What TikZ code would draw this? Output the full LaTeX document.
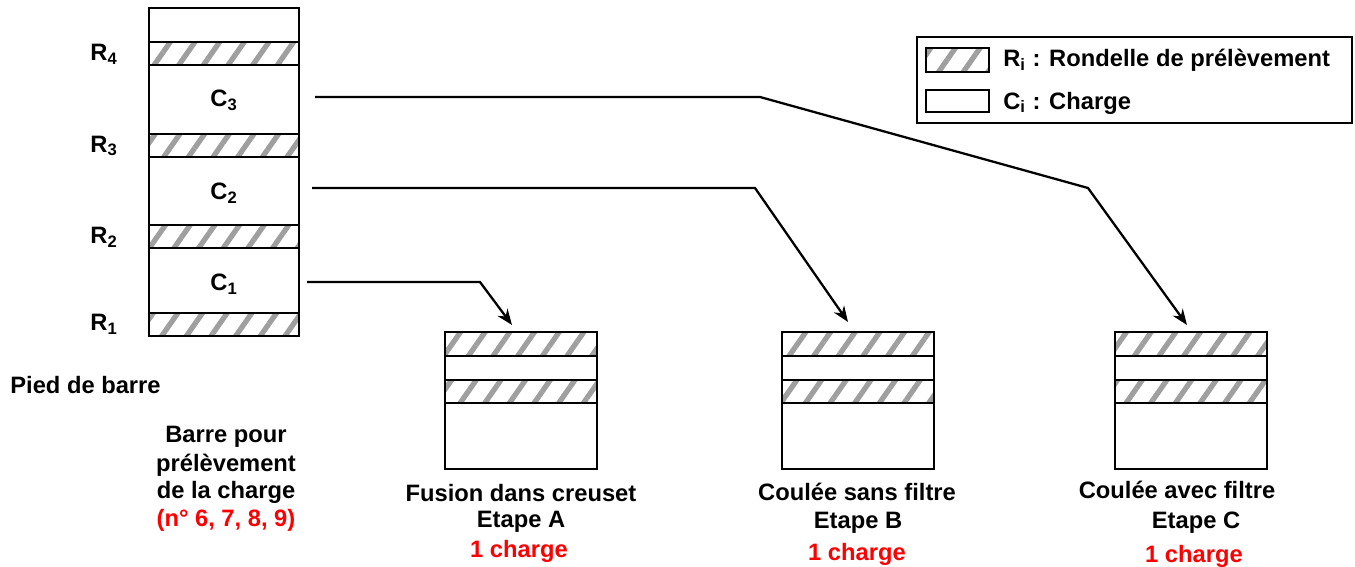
\documentclass[tikz,border=0pt]{standalone}
\usepackage{fontspec}
\setmainfont{Liberation Sans}
\usetikzlibrary{patterns.meta,arrows.meta}
\tikzset{
    ronde/.style={draw,line width=1.2pt,pattern={Lines[angle=55,distance=11.5pt,line width=3pt]},pattern color=gray!75},
    charge/.style={draw,line width=1.2pt},
    lien/.style={line width=1.3pt,-{Stealth[length=9pt,width=7pt]}},
    every node/.style={font=\bfseries\fontsize{13.5}{15.5}\selectfont,inner sep=0pt}
}
\begin{document}
\begin{tikzpicture}[x=0.02cm,y=-0.02cm]
        \useasboundingbox (0,0) rectangle (1355,567);
        % barre
        \draw[charge] (149,8) rectangle (299,336);
        \foreach \y in {42,134,225,313} {
            \draw[ronde] (149,\y) rectangle (299,\y+23);
        }
        \node (r4) at (104,54) {R\textsubscript{4}};
        \node (r3) at (104,146) {R\textsubscript{3}};
        \node (r2) at (104,237) {R\textsubscript{2}};
        \node (r1) at (104,324) {R\textsubscript{1}};
        \node (c3) at (224,100) {C\textsubscript{3}};
        \node (c2) at (224,193) {C\textsubscript{2}};
        \node (c1) at (224,284) {C\textsubscript{1}};
        \node[anchor=west] (pied) at (10,385) {Pied de barre};
        \node (barre1) at (226,437) {Barre pour};
        \node (barre2) at (226,465) {prélèvement};
        \node (barre3) at (226,492) {de la charge};
        \node[text=red] (barre4) at (226,520) {(n° 6, 7, 8, 9)};
        % creusets
        \foreach \x in {445,782,1115} {
            \draw[charge] (\x,332) rectangle (\x+152,469);
            \draw[ronde] (\x,332) rectangle (\x+152,356);
            \draw[ronde] (\x,380) rectangle (\x+152,403);
        }
        \node (fa) at (521,493) {Fusion dans creuset};
        \node (ea) at (521,522) {Etape A};
        \node[text=red] (qa) at (519,551) {1 charge};
        \node (fb) at (857,492) {Coulée sans filtre};
        \node (eb) at (858,523) {Etape B};
        \node[text=red] (qb) at (857,554) {1 charge};
        \node (fc) at (1177,490) {Coulée avec filtre};
        \node (ec) at (1196,523) {Etape C};
        \node[text=red] (qc) at (1194,556) {1 charge};
        % liaisons
        \coordinate (d3) at (315,97);
        \coordinate (d2) at (312,188);
        \coordinate (d1) at (307,282);
        \coordinate (ia) at (512,325);
        \coordinate (ib) at (848,322);
        \coordinate (ic) at (1187,325);
        \draw[lien] (d1) -- (480,282) -- (ia);
        \draw[lien] (d2) -- (755,188) -- (ib);
        \draw[lien] (d3) -- (760,97) -- (1088,188) -- (ic);
        % legende
        \draw[line width=1.2pt] (917,37) rectangle (1352,123);
        \draw[ronde] (926,48) rectangle (989,72);
        \draw[charge] (926,90) rectangle (989,112);
        \node[anchor=west] (lr) at (1003,60) {R\textsubscript{i} : Rondelle de prélèvement};
        \node[anchor=west] (lc) at (1003,103) {C\textsubscript{i} : Charge};
\end{tikzpicture}
\end{document}
